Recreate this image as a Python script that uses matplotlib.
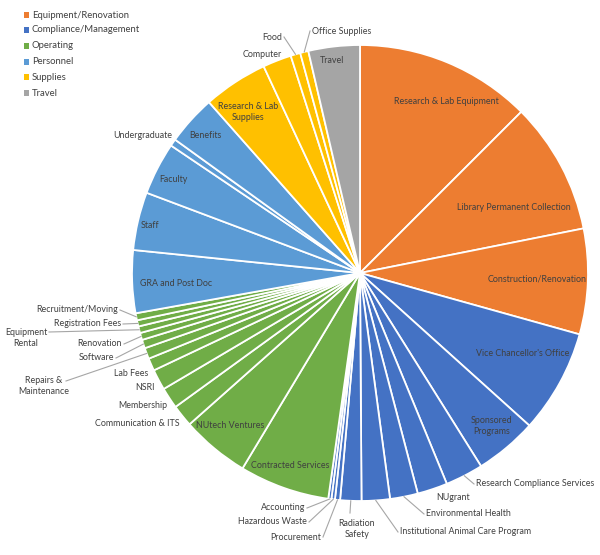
import numpy as np
import matplotlib
matplotlib.use("Agg")
import matplotlib.pyplot as plt
from matplotlib.patches import Rectangle

plt.rcParams['font.family'] = ['Lato', 'DejaVu Sans']

# ---------------- data ----------------
groups = ["Equipment/Renovation", "Compliance/Management", "Operating",
          "Personnel", "Supplies", "Travel"]
group_colors = ["#ED7D31", "#4472C4", "#70AD47", "#5B9BD5", "#FFC000", "#A5A5A5"]

equip_names = ["Research & Lab Equipment", "Library Permanent Collection",
               "Construction/Renovation"]
equip_vals = [12.5, 9.36, 7.47]

comp_names = ["Vice Chancellor's Office", "Sponsored\nPrograms",
              "Research Compliance Services", "NUgrant", "Environmental Health",
              "Institutional Animal Care Program", "Radiation\nSafety",
              "Procurement", "Hazardous Waste", "Accounting"]
comp_vals = [7.33, 4.42, 2.69, 2.14, 1.97, 2.00, 1.50, 0.36, 0.25, 0.22]

oper_names = ["Contracted Services", "NUtech Ventures", "Communication & ITS",
              "Membership", "NSRI", "Lab Fees", "Repairs &\nMaintenance",
              "Software", "Renovation", "Equipment\nRental",
              "Registration Fees", "Recruitment/Moving"]
oper_vals = [6.39, 4.83, 1.56, 1.50, 1.47, 0.89, 0.78, 0.61, 0.50, 0.47, 0.44, 0.50]

pers_names = ["GRA and Post Doc", "Staff", "Faculty", "Undergraduate", "Benefits"]
pers_vals = [4.44, 4.11, 3.72, 0.50, 3.53]

supp_names = ["Research & Lab\nSupplies", "Computer", "Food", "Office Supplies"]
supp_vals = [4.58, 2.03, 0.69, 0.58]

travel_names = ["Travel"]
travel_vals = [3.64]

all_names = equip_names + comp_names + oper_names + pers_names + supp_names + travel_names
all_vals = equip_vals + comp_vals + oper_vals + pers_vals + supp_vals + travel_vals
group_lists = [equip_names, comp_names, oper_names, pers_names, supp_names, travel_names]
all_colors = []
for g, names in enumerate(group_lists):
    all_colors += [group_colors[g]] * len(names)

# ---------------- layout ----------------
W, H = 600, 555
CX, CY, R = 360, 273, 228

def d(px, py):
    return (px - CX) / R, (CY - py) / R

# inside labels: centre positions in pixels
inside = {
    "Research & Lab Equipment": (446, 101),
    "Library Permanent Collection": (514, 207),
    "Construction/Renovation": (537, 279),
    "Vice Chancellor's Office": (523, 353),
    "Sponsored\nPrograms": (492, 426),
    "Contracted Services": (290, 466),
    "NUtech Ventures": (230, 426),
    "GRA and Post Doc": (176, 283),
    "Staff": (150, 226),
    "Faculty": (173, 180),
    "Benefits": (205, 135),
    "Research & Lab\nSupplies": (248, 112),
    "Travel": (332, 60),
}
# outside labels: (x, y, ha, leader start or None)
outside = {
    "Recruitment/Moving": (118, 310, "right", (120, 310)),
    "Registration Fees": (121, 324, "right", (123, 324)),
    "Equipment\nRental": (26, 338, "center", (49, 332)),
    "Renovation": (122, 344, "right", (124, 344)),
    "Software": (114, 358, "right", (116, 358)),
    "Repairs &\nMaintenance": (44, 386, "center", (66, 381)),
    "Lab Fees": (148, 373, "right", None),
    "NSRI": (155, 388, "right", None),
    "Membership": (167, 406, "right", None),
    "Communication & ITS": (180, 424, "right", None),
    "Accounting": (305, 508, "right", (307, 508)),
    "Hazardous Waste": (307, 522, "right", (309, 522)),
    "Procurement": (321, 537, "right", (323, 537)),
    "Radiation\nSafety": (357, 529, "center", (350, 513)),
    "Institutional Animal Care Program": (400, 532, "left", (398, 532)),
    "Environmental Health": (426, 514, "left", (424, 514)),
    "NUgrant": (453, 498, "center", None),
    "Research Compliance Services": (476, 484, "left", (474, 484)),
    "Office Supplies": (312, 31, "left", (310, 31)),
    "Food": (282, 37, "right", (284, 37)),
    "Computer": (262, 54, "center", None),
    "Undergraduate": (172, 136, "right", None),
}

fig = plt.figure(figsize=(W / 100, H / 100), dpi=100)
fig.patch.set_facecolor("white")
ax = fig.add_axes([(CX - R) / W, (H - CY - R) / H, 2 * R / W, 2 * R / H])

wedges, _ = ax.pie(all_vals, colors=all_colors, startangle=90, counterclock=False,
                   radius=1.0, wedgeprops=dict(edgecolor="white", linewidth=1.3))
ax.set_xlim(-1, 1)
ax.set_ylim(-1, 1)
ax.set_aspect("equal")
ax.axis("off")

txt_color = "#404040"
fs = 6.4
for w, name in zip(wedges, all_names):
    if name in inside:
        x, y = d(*inside[name])
        ax.text(x, y, name, ha="center", va="center", fontsize=fs,
                color=txt_color, linespacing=1.3, clip_on=False)
    elif name in outside:
        px, py, ha, lead = outside[name]
        x, y = d(px, py)
        ax.text(x, y, name, ha=ha, va="center", fontsize=fs, color=txt_color,
                linespacing=1.3, clip_on=False)
        if lead is not None:
            mid = np.deg2rad((w.theta1 + w.theta2) / 2)
            ex, ey = np.cos(mid), np.sin(mid)
            sx, sy = d(*lead)
            ax.plot([sx, ex], [sy, ey], color="#A6A6A6", lw=0.8, clip_on=False)

# legend
leg_fs = 6.8
leg_y = [15, 30, 46, 62, 77, 93]
for g, (name, col) in enumerate(zip(groups, group_colors)):
    y = leg_y[g]
    fig.patches.append(Rectangle(((24) / W, (H - y - 2.5) / H), 5 / W, 5 / H,
                                 transform=fig.transFigure, facecolor=col,
                                 edgecolor="none"))
    fig.text(32 / W, (H - y) / H, name, ha="left", va="center", fontsize=leg_fs,
             color=txt_color)

fig.savefig("out.png", dpi=100, facecolor="white")
